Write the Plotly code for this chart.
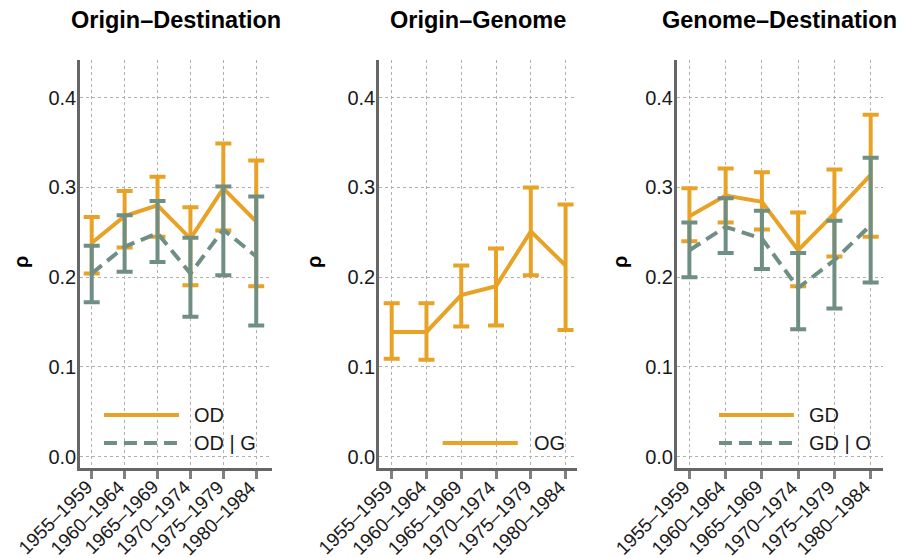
import plotly.graph_objects as go

periods = ["1955–1959", "1960–1964", "1965–1969", "1970–1974", "1975–1979", "1980–1984"]

# Origin–Destination
od_mean = [0.238, 0.268, 0.280, 0.243, 0.299, 0.262]
od_low = [0.204, 0.233, 0.245, 0.191, 0.252, 0.190]
od_high = [0.267, 0.296, 0.312, 0.278, 0.349, 0.330]
odg_mean = [0.204, 0.234, 0.249, 0.204, 0.253, 0.223]
odg_low = [0.172, 0.206, 0.217, 0.156, 0.202, 0.146]
odg_high = [0.235, 0.269, 0.285, 0.244, 0.301, 0.290]

# Origin–Genome
og_mean = [0.139, 0.139, 0.180, 0.190, 0.251, 0.213]
og_low = [0.109, 0.108, 0.145, 0.146, 0.202, 0.141]
og_high = [0.171, 0.171, 0.213, 0.232, 0.300, 0.281]

# Genome–Destination
gd_mean = [0.268, 0.291, 0.284, 0.230, 0.271, 0.314]
gd_low = [0.240, 0.261, 0.253, 0.190, 0.223, 0.245]
gd_high = [0.299, 0.321, 0.317, 0.272, 0.320, 0.381]
gdo_mean = [0.230, 0.256, 0.243, 0.188, 0.219, 0.258]
gdo_low = [0.200, 0.227, 0.209, 0.142, 0.165, 0.194]
gdo_high = [0.261, 0.288, 0.274, 0.227, 0.263, 0.333]

titles = ["Origin–Destination", "Origin–Genome", "Genome–Destination"]
y_ticks = [0.0, 0.1, 0.2, 0.3, 0.4]

ORANGE = "#E8A226"
GREY = "#6F8E84"
FONT = "Liberation Sans, Arial, sans-serif"
W, H = 906, 558
OFF = 8  # page body margin offset

def fx(px):
    return (px - OFF) / W

def fy(py):
    return 1 - (py - OFF) / H

# panel pixel boxes (left, right) in page coordinates
panels_px = [(80, 271.7), (379, 576.7), (676.7, 883)]
x_ranges = [[-0.356, 5.47], [-0.365, 5.32], [-0.35, 5.34]]
top_px, bot_px = 60, 468.3

fig = go.Figure()

def add_series(mean, low, high, color, dash, xa, ya):
    fig.add_trace(go.Scatter(
        x=periods, y=mean, mode="lines", xaxis=xa, yaxis=ya,
        line=dict(color=color, width=4, dash=dash),
        error_y=dict(type="data", symmetric=False,
                     array=[h - m for h, m in zip(high, mean)],
                     arrayminus=[m - l for m, l in zip(mean, low)],
                     color=color, thickness=4, width=8),
        showlegend=False, hoverinfo="skip"))

add_series(od_mean, od_low, od_high, ORANGE, "solid", "x", "y")
add_series(odg_mean, odg_low, odg_high, GREY, "13px,7px", "x", "y")
add_series(og_mean, og_low, og_high, ORANGE, "solid", "x2", "y2")
add_series(gd_mean, gd_low, gd_high, ORANGE, "solid", "x3", "y3")
add_series(gdo_mean, gdo_low, gdo_high, GREY, "13px,7px", "x3", "y3")

ydom = [fy(bot_px), fy(top_px)]
layout = dict(
    width=W, height=H,
    margin=dict(l=0, r=0, t=0, b=0),
    paper_bgcolor="white", plot_bgcolor="white",
    font=dict(family=FONT, color="#1a1a1a", size=18),
    showlegend=False,
)
for i, ((l, r), xr) in enumerate(zip(panels_px, x_ranges)):
    sfx = "" if i == 0 else str(i + 1)
    layout["xaxis" + sfx] = dict(
        domain=[fx(l), fx(r)], anchor="y" + sfx, type="category",
        range=xr, showline=True, linecolor="#666666", linewidth=2.5,
        ticks="outside", ticklen=8, tickwidth=3, tickcolor="#808080",
        showticklabels=False,
        showgrid=True, gridcolor="#b0b0b0", gridwidth=1, griddash="dot",
        zeroline=False, automargin=False, fixedrange=True,
    )
    layout["yaxis" + sfx] = dict(
        domain=ydom, anchor="x" + sfx, range=[-0.013, 0.442],
        tickvals=y_ticks, ticktext=[f"{v:.1f}" for v in y_ticks],
        showline=True, linecolor="#666666", linewidth=2.5,
        ticks="", ticklabelstandoff=-3, tickfont=dict(size=20, color="#1a1a1a"),
        showgrid=True, gridcolor="#b0b0b0", gridwidth=1, griddash="dot",
        zeroline=False, automargin=False, fixedrange=True,
    )
fig.update_layout(**layout)

annotations = []
shapes = []
rho_x = [21, 314, 620]
for i, ((l, r), t) in enumerate(zip(panels_px, titles)):
    sfx = "" if i == 0 else str(i + 1)
    annotations.append(dict(
        text=f"<b>{t}</b>", x=fx((l + r) / 2), y=fy(20), xref="paper", yref="paper",
        showarrow=False, xanchor="center", yanchor="middle",
        font=dict(size=23.5, family=FONT, color="black")))
    annotations.append(dict(
        text="<b>ρ</b>", x=fx(rho_x[i]), y=fy(262), xref="paper", yref="paper",
        showarrow=False, xanchor="center", yanchor="middle", textangle=-90,
        font=dict(size=20, family=FONT, color="black")))
    # rotated x tick labels
    for p in periods:
        annotations.append(dict(
            text=p, x=p, xref="x" + sfx, y=fy(475), yref="paper",
            showarrow=False, xanchor="right", yanchor="top", textangle=-45,
            xshift=6, borderpad=0,
            font=dict(size=19, family=FONT, color="#1a1a1a")))

# legends drawn inside each panel
legends = [
    ("x", "y", [("OD", ORANGE, "solid"), ("OD | G", GREY, "13px,7px")], 0.125, 0.516, 0.584),
    ("x2", "y2", [("OG", ORANGE, "solid")], 0.322, 0.702, 0.772),
    ("x3", "y3", [("GD", ORANGE, "solid"), ("GD | O", GREY, "13px,7px")], 0.205, 0.568, 0.633),
]
row_y = [0.1305, 0.062]
for xa, ya, items, x0, x1, tx in legends:
    ys = row_y if len(items) == 2 else [0.062]
    for (label, color, dash), yy in zip(items, ys):
        shapes.append(dict(type="line", xref=f"{xa} domain", yref=f"{ya} domain",
                           x0=x0, x1=x1, y0=yy, y1=yy,
                           line=dict(color=color, width=4, dash=dash)))
        annotations.append(dict(text=label, xref=f"{xa} domain", yref=f"{ya} domain",
                                x=tx, y=yy, showarrow=False, xanchor="left", yanchor="middle",
                                font=dict(size=20, family=FONT, color="#1a1a1a")))

fig.update_layout(annotations=annotations, shapes=shapes)
fig.write_html("out.html")
